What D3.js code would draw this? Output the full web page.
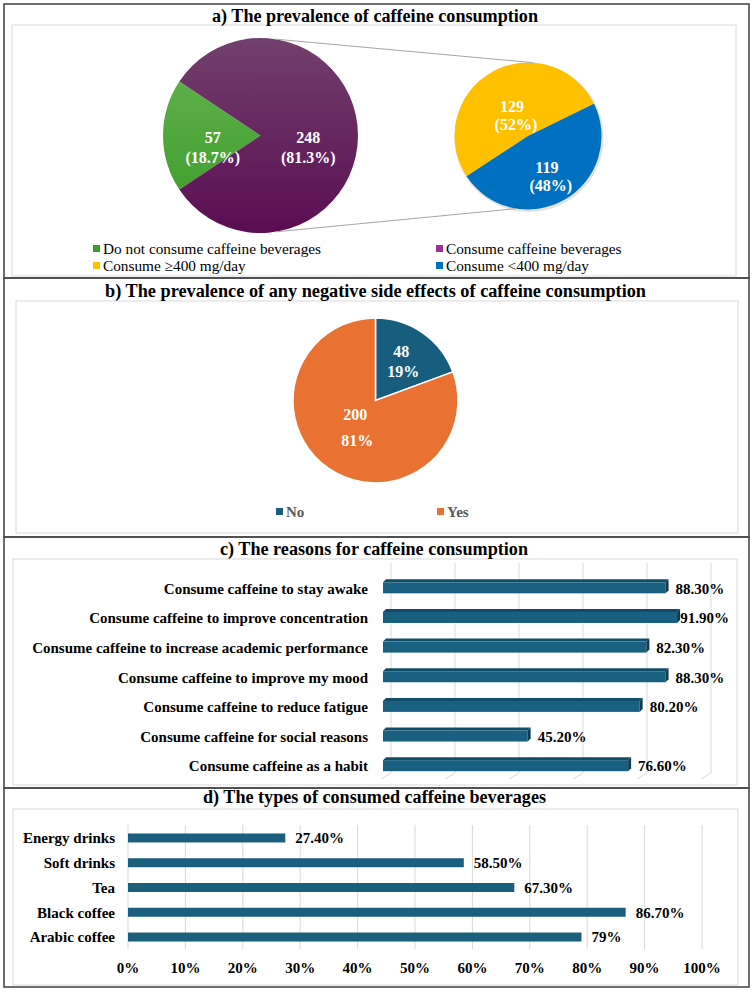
<!DOCTYPE html>
<html><head><meta charset="utf-8">
<script src="https://cdn.jsdelivr.net/npm/d3@7"></script>
<style>body{margin:0;background:#fff} text{font-family:"Liberation Serif","Times New Roman",serif}</style>
</head><body><svg id="c" width="756" height="992"></svg>
<script>
// ---------- DATA ----------
const titles = [
  "a) The prevalence of caffeine consumption",
  "b) The prevalence of any negative side effects of caffeine consumption",
  "c) The reasons for caffeine consumption",
  "d) The types of consumed caffeine beverages"
];
const pieALabels = ["Do not consume caffeine beverages", "Consume caffeine beverages"];
const pieAValues = [57, 248];
const pieAPct = ["(18.7%)", "(81.3%)"];
const pieA2Labels = ["Consume \u2265400 mg/day", "Consume <400 mg/day"];
const pieA2Values = [129, 119];
const pieA2Pct = ["(52%)", "(48%)"];
const pieBLabels = ["No", "Yes"];
const pieBValues = [48, 200];
const pieBPct = ["19%", "81%"];
const reasonCats = [
  "Consume caffeine to stay awake",
  "Consume caffeine to improve concentration",
  "Consume caffeine to increase academic performance",
  "Consume caffeine to improve my mood",
  "Consume caffeine to reduce fatigue",
  "Consume caffeine for social reasons",
  "Consume caffeine as a habit"
];
const reasonVals = [88.3, 91.9, 82.3, 88.3, 80.2, 45.2, 76.6];
const reasonLabels = ["88.30%", "91.90%", "82.30%", "88.30%", "80.20%", "45.20%", "76.60%"];
const reasonGrid = [0, 20, 40, 60, 80, 100];
const typeCats = ["Energy drinks", "Soft drinks", "Tea", "Black coffee", "Arabic coffee"];
const typeVals = [27.4, 58.5, 67.3, 86.7, 79];
const typeLabels = ["27.40%", "58.50%", "67.30%", "86.70%", "79%"];
const typeTicks = [0, 10, 20, 30, 40, 50, 60, 70, 80, 90, 100];

// ---------- SETUP ----------
const svg = d3.select("#c");
svg.append("rect").attr("width", 756).attr("height", 992).attr("fill", "#fff");
const defs = svg.append("defs");
function lg(id, c1, c2, y1, y2) {
  const g = defs.append("linearGradient").attr("id", id).attr("gradientUnits", "userSpaceOnUse")
    .attr("x1", 0).attr("x2", 0).attr("y1", y1).attr("y2", y2);
  g.append("stop").attr("offset", "0").attr("stop-color", c1);
  g.append("stop").attr("offset", "1").attr("stop-color", c2);
}
lg("gGreen", "#66b552", "#3a9a27", 38, 233);
lg("gPurple", "#72406c", "#5a0d52", 38, 233);

const innerBoxes = [[12, 25, 736, 276], [16, 301, 738, 533], [13, 559, 737, 785], [13, 809, 738, 985]];
innerBoxes.forEach(b => svg.append("rect").attr("x", b[0]).attr("y", b[1]).attr("width", b[2] - b[0]).attr("height", b[3] - b[1])
  .attr("fill", "none").attr("stroke", "#d9d9d9").attr("stroke-width", 1));
const panels = [[4, 4, 749, 278], [4, 278, 749, 537], [4, 537, 749, 788], [4, 788, 749, 987]];
panels.forEach(b => svg.append("rect").attr("x", b[0]).attr("y", b[1]).attr("width", b[2] - b[0]).attr("height", b[3] - b[1])
  .attr("fill", "none").attr("stroke", "#4a4a4a").attr("stroke-width", 1.6));

const titleLayout = [[212, 538, 21.5], [105, 646, 297], [220, 528, 555], [203, 546, 803]];
titles.forEach((t, i) => {
  const L = titleLayout[i];
  svg.append("text").attr("x", (L[0] + L[1]) / 2).attr("y", L[2]).attr("text-anchor", "middle")
    .attr("font-size", 18).attr("font-weight", "bold").attr("fill", "#000")
    .attr("textLength", L[1] - L[0]).attr("lengthAdjust", "spacingAndGlyphs").text(t);
});

const deg = Math.PI / 180;

// ---------- PANEL A ----------
{
  const cx = 260.5, cy = 135.5, r = 97.5;
  const total = d3.sum(pieAValues);
  const greenFrac = pieAValues[0] / total;
  const start = 1.5 * Math.PI - greenFrac * Math.PI;
  const arcs = d3.pie().sort(null).startAngle(start).endAngle(start + 2 * Math.PI)(pieAValues);
  const arc = d3.arc().innerRadius(0).outerRadius(r);
  const g = svg.append("g").attr("transform", `translate(${cx},${cy})`);
  const fills = ["url(#gGreen)", "url(#gPurple)"];
  defs.select("#gGreen").attr("gradientTransform", `translate(0,${-cy})`);
  defs.select("#gPurple").attr("gradientTransform", `translate(0,${-cy})`);
  g.selectAll("path").data(arcs).join("path").attr("d", arc).attr("fill", (d, i) => fills[i]);
  const lab = d3.arc().innerRadius(r * 0.49).outerRadius(r * 0.49);
  arcs.forEach((d, i) => {
    const [x, y] = lab.centroid(d);
    const t = g.append("text").attr("text-anchor", "middle").attr("font-size", 16).attr("font-weight", "bold").attr("fill", "#fff");
    t.append("tspan").attr("x", x).attr("y", y + 7).text(pieAValues[i]);
    t.append("tspan").attr("x", x).attr("y", y + 27).text(pieAPct[i]);
  });

  const cx2 = 528, cy2 = 136, r2 = 73.5;
  const start2 = 236.7 * deg;
  const arcs2 = d3.pie().sort(null).startAngle(start2).endAngle(start2 + 2 * Math.PI)(pieA2Values);
  const arc2 = d3.arc().innerRadius(0).outerRadius(r2);
  const g2 = svg.append("g").attr("transform", `translate(${cx2},${cy2})`);
  const fills2 = ["#ffc000", "#0070c0"];
  g2.append("circle").attr("r", r2 + 1).attr("cx", 1).attr("cy", 1.5).attr("fill", "#cfcfcf").attr("opacity", 0.6);
  g2.selectAll("path").data(arcs2).join("path").attr("d", arc2).attr("fill", (d, i) => fills2[i]);
  const labR = [0.36, 0.6];
  arcs2.forEach((d, i) => {
    const la = d3.arc().innerRadius(r2 * labR[i]).outerRadius(r2 * labR[i]);
    const [x, y] = la.centroid(d);
    const t = g2.append("text").attr("text-anchor", "middle").attr("font-size", 16).attr("font-weight", "bold").attr("fill", "#fff");
    t.append("tspan").attr("x", x - 3).attr("y", y - 1).text(pieA2Values[i]);
    t.append("tspan").attr("x", x + 1).attr("y", y + 17).text(pieA2Pct[i]);
  });

  const pt = (x, y, rr, a) => [x + rr * Math.sin(a * deg), y - rr * Math.cos(a * deg)];
  const l1 = [pt(cx, cy, r, 8.6), pt(cx2, cy2, r2, 4)];
  const l2 = [pt(cx, cy, r, 171.4), pt(cx2, cy2, r2, 189)];
  [l1, l2].forEach(l => svg.append("line").attr("x1", l[0][0]).attr("y1", l[0][1]).attr("x2", l[1][0]).attr("y2", l[1][1])
    .attr("stroke", "#a6a6a6").attr("stroke-width", 1));

  const legItems = [
    [pieALabels[0], "#3c9c2c", 93, 249], [pieALabels[1], "#a03097", 436, 249],
    [pieA2Labels[0], "#ffc000", 93, 266], [pieA2Labels[1], "#0070c0", 436, 266]
  ];
  legItems.forEach(([t, c, x, y]) => {
    svg.append("rect").attr("x", x).attr("y", y - 4).attr("width", 7).attr("height", 7).attr("fill", c);
    svg.append("text").attr("x", x + 10).attr("y", y + 5).attr("font-size", 15.3).attr("fill", "#000").text(t);
  });
}

// ---------- PANEL B ----------
{
  const cx = 375.5, cy = 400.5, r = 82.5;
  const arcs = d3.pie().sort(null)(pieBValues);
  const arc = d3.arc().innerRadius(0).outerRadius(r);
  const g = svg.append("g").attr("transform", `translate(${cx},${cy})`);
  const fills = ["#175e7e", "#e97132"];
  g.selectAll("path").data(arcs).join("path").attr("d", arc).attr("fill", (d, i) => fills[i])
    .attr("stroke", "#fff").attr("stroke-width", 1.5);
  const labR = [0.57, 0.41];
  const gap = [20, 26];
  arcs.forEach((d, i) => {
    const la = d3.arc().innerRadius(r * labR[i]).outerRadius(r * labR[i]);
    const [x, y] = la.centroid(d);
    const t = g.append("text").attr("text-anchor", "middle").attr("font-size", 16).attr("font-weight", "bold").attr("fill", "#fff");
    t.append("tspan").attr("x", x - 1).attr("y", y - gap[i] / 2 + 5).text(pieBValues[i]);
    t.append("tspan").attr("x", x + 1).attr("y", y + gap[i] / 2 + 5).text(pieBPct[i]);
  });
  const legX = [276, 437];
  pieBLabels.forEach((t, i) => {
    svg.append("rect").attr("x", legX[i]).attr("y", 508).attr("width", 7).attr("height", 7).attr("fill", fills[i]);
    svg.append("text").attr("x", legX[i] + 10).attr("y", 517).attr("font-size", 15).attr("font-weight", "bold")
      .attr("fill", "#595959").text(t);
  });
}

// ---------- PANEL C (3D bars) ----------
{
  const x = d3.scaleLinear().domain([0, 100]).range([383, 703]);
  const y = d3.scaleBand().domain(reasonCats).range([573.5, 781]);
  const backDx = 8, topY = 563, floorY = 773, frontY = 779;
  const grid = svg.append("g");
  reasonGrid.forEach(v => {
    const xb = x(v) + backDx;
    grid.append("line").attr("x1", xb).attr("x2", xb).attr("y1", topY).attr("y2", floorY).attr("stroke", "#d9d9d9");
    grid.append("line").attr("x1", xb).attr("x2", x(v) - 2).attr("y1", floorY).attr("y2", frontY).attr("stroke", "#d9d9d9");
  });
  const dd = 3;
  reasonCats.forEach((c, i) => {
    const cy = y(c) + y.bandwidth() / 2;
    const x0 = x(0), x1 = x(reasonVals[i]);
    const top = cy - 6, bot = cy + 5;
    svg.append("polygon").attr("points", `${x0},${top} ${x0 + dd},${top - dd} ${x1 + dd},${top - dd} ${x1},${top}`).attr("fill", "#124d68");
    svg.append("rect").attr("x", x0).attr("y", top).attr("width", x1 - x0).attr("height", bot - top).attr("fill", "#195f80");
    svg.append("polygon").attr("points", `${x1},${top} ${x1 + dd},${top - dd} ${x1 + dd},${bot - dd} ${x1},${bot}`).attr("fill", "#0e3b50");
    svg.append("text").attr("x", 368).attr("y", cy).attr("dy", "0.35em").attr("text-anchor", "end")
      .attr("font-size", 15).attr("font-weight", "bold").attr("fill", "#000").text(c);
    const t = svg.append("text").attr("y", cy).attr("dy", "0.35em").attr("font-size", 15).attr("font-weight", "bold")
      .attr("fill", "#000").text(reasonLabels[i]);
    const w = t.node().getComputedTextLength();
    t.attr("x", Math.min(x1 + 10, 729 - w));
  });
}

// ---------- PANEL D ----------
{
  const x = d3.scaleLinear().domain([0, 100]).range([128, 702]);
  const y = d3.scaleBand().domain(typeCats).range([825.6, 949.4]);
  typeTicks.forEach(v => {
    svg.append("line").attr("x1", x(v)).attr("x2", x(v)).attr("y1", 825).attr("y2", 949).attr("stroke", "#d9d9d9");
    svg.append("text").attr("x", x(v)).attr("y", 968).attr("dy", "0.35em").attr("text-anchor", "middle")
      .attr("font-size", 15).attr("font-weight", "bold").attr("fill", "#000").text(v + "%");
  });
  typeCats.forEach((c, i) => {
    const cy = y(c) + y.bandwidth() / 2;
    svg.append("rect").attr("x", x(0)).attr("y", cy - 4.5).attr("width", x(typeVals[i]) - x(0)).attr("height", 9).attr("fill", "#1a5f7e");
    svg.append("text").attr("x", 115).attr("y", cy).attr("dy", "0.35em").attr("text-anchor", "end")
      .attr("font-size", 15).attr("font-weight", "bold").attr("fill", "#000").text(c);
    svg.append("text").attr("x", x(typeVals[i]) + 10).attr("y", cy).attr("dy", "0.35em")
      .attr("font-size", 15).attr("font-weight", "bold").attr("fill", "#000").text(typeLabels[i]);
  });
}
</script></body></html>
